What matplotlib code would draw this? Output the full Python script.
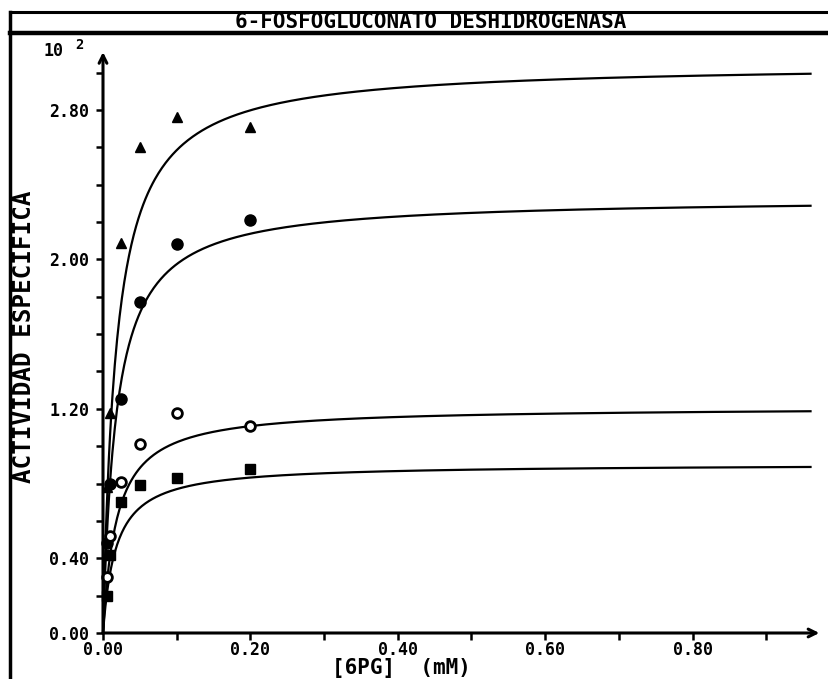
"""Michaelis-Menten plot for 6-fosfogluconato deshidrogenasa."""

import numpy as np
import matplotlib
matplotlib.use('Agg')
import matplotlib.pyplot as plt
from matplotlib.lines import Line2D

# substrate concentrations [6PG] (mM)
conc = [0.005, 0.01, 0.025, 0.05, 0.1, 0.2]

# specific activity (x 10^2) for each series
act_triangle = [0.78, 1.18, 2.09, 2.60, 2.76, 2.71]
act_dot = [0.48, 0.80, 1.25, 1.77, 2.08, 2.21]
act_ring = [0.30, 0.52, 0.81, 1.01, 1.18, 1.11]
act_square = [0.20, 0.42, 0.70, 0.79, 0.83, 0.88]

# fitted kinetic constants for each series (Vmax x 10^2, Km in mM)
vmax = [3.05, 2.33, 1.21, 0.905]
km = [0.018, 0.018, 0.0185, 0.0175]
curve_end = 0.96

x_ticks = [0.0, 0.1, 0.2, 0.3, 0.4, 0.5, 0.6, 0.7, 0.8, 0.9]
x_labels = ['0.00', '', '0.20', '', '0.40', '', '0.60', '', '0.80', '']
y_ticks = [0.0, 0.2, 0.4, 0.6, 0.8, 1.0, 1.2, 1.4, 1.6, 1.8, 2.0, 2.2,
           2.4, 2.6, 2.8, 3.0]
y_labels = ['0.00', '', '0.40', '', '', '', '1.20', '', '', '', '2.00', '',
            '', '', '2.80', '']

MONO = 'DejaVu Sans Mono'

W, H = 829, 679
fig = plt.figure(figsize=(W / 100, H / 100), dpi=100)

# axes placed so that the origin sits at (103, 633) px
x0_px, y0_px = 103, 633
px_x, px_y = 737.0, 186.8
xmax, ymax = 0.98, 3.2
ax = fig.add_axes([x0_px / W, (H - y0_px) / H, xmax * px_x / W, ymax * px_y / H])
ax.set_xlim(0, xmax)
ax.set_ylim(0, ymax)
for sp in ax.spines.values():
    sp.set_visible(False)
ax.patch.set_alpha(0)

# axes with arrow heads
arrow = dict(arrowstyle='->', lw=2.2, color='black', shrinkA=0, shrinkB=0,
             mutation_scale=14)
ax.annotate('', xy=(0.972, 0), xytext=(0, 0), arrowprops=arrow,
            annotation_clip=False)
ax.annotate('', xy=(0, 3.11), xytext=(0, 0), arrowprops=arrow,
            annotation_clip=False)

ax.set_xticks(x_ticks)
ax.set_xticklabels(x_labels)
ax.set_yticks(y_ticks)
ax.set_yticklabels(y_labels)
ax.tick_params(axis='both', direction='out', length=5, width=1.8,
               color='black')
ax.tick_params(axis='x', pad=1)
ax.tick_params(axis='y', pad=5)
for lab in ax.get_xticklabels() + ax.get_yticklabels():
    lab.set_fontfamily(MONO)
    lab.set_fontweight('bold')
    lab.set_fontsize(12)

# fitted curves
xs = np.linspace(0, curve_end, 600)
for v, k in zip(vmax, km):
    ax.plot(xs, v * xs / (k + xs), color='black', lw=1.6, clip_on=False)

# measured points
ax.plot(conc, act_triangle, '^', color='black', ms=7, clip_on=False)
ax.plot(conc, act_dot, 'o', color='black', ms=8, clip_on=False)
ax.plot(conc, act_ring, 'o', mfc='white', mec='black', mew=2, ms=7,
        clip_on=False)
ax.plot(conc, act_square, 's', color='black', ms=7, clip_on=False)

# axis titles
fig.text(24 / W, 1 - 337 / H, 'ACTIVIDAD ESPECIFICA', rotation=90,
         ha='center', va='center', family=MONO, weight='bold', fontsize=17.5)
fig.text(401 / W, 1 - 668 / H, '[6PG]  (mM)', ha='center', va='center',
         family=MONO, weight='bold', fontsize=15)
fig.text(44 / W, 1 - 51 / H, '10', ha='left', va='center', family=MONO,
         weight='bold', fontsize=12)
fig.text(75 / W, 1 - 45 / H, '2', ha='left', va='center', family=MONO,
         weight='bold', fontsize=10)

# title box
fig.add_artist(Line2D([10 / W, 1], [1 - 12 / H, 1 - 12 / H], lw=2.2,
                      color='black', transform=fig.transFigure))
fig.add_artist(Line2D([10 / W, 1], [1 - 33 / H, 1 - 33 / H], lw=3.2,
                      color='black', transform=fig.transFigure))
fig.add_artist(Line2D([10 / W, 10 / W], [0, 1 - 12 / H], lw=2.5,
                      color='black', transform=fig.transFigure))
fig.text(431 / W, 1 - 20.5 / H, '6-FOSFOGLUCONATO DESHIDROGENASA',
         ha='center', va='center_baseline', family=MONO, weight='bold',
         fontsize=15)

fig.savefig('out.png', dpi=100)
